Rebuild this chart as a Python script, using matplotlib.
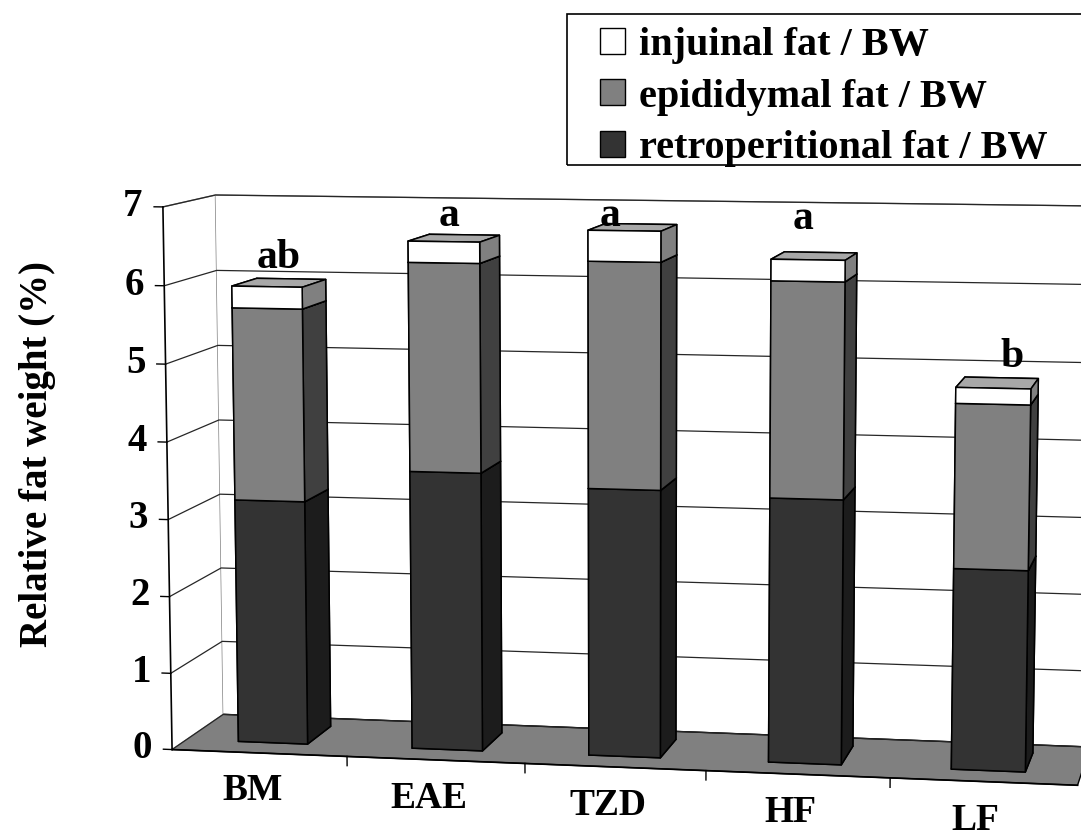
import matplotlib
matplotlib.use("Agg")
import matplotlib.pyplot as plt
import numpy as np
from matplotlib.patches import Patch, Rectangle

# relative fat depot weights (% of body weight), stacked bottom to top
groups = ["BM", "EAE", "TZD", "HF", "LF"]
retro = [3.18, 3.61, 3.45, 3.39, 2.56]
epid = [2.49, 2.68, 2.89, 2.74, 2.08]
inguinal = [0.28, 0.27, 0.39, 0.27, 0.20]
letters = ["ab", "a", "a", "a", "b"]
series_names = ["retroperitional fat / BW", "epididymal fat / BW", "injuinal fat / BW"]

# where the significance letters sit (x shift, height on the value axis)
letter_dx = [0.07, 0.03, -0.08, -0.03, 0.10]
letter_z = [6.08, 6.65, 6.67, 6.67, 5.0]

# (front, side, top) shades for each stacked series
shades = [("#333333", "#1c1c1c", "#282828"),
          ("#808080", "#404040", "#606060"),
          ("#ffffff", "#808080", "#a8a8a8")]

plt.rcParams['font.family'] = ['Liberation Serif', 'DejaVu Serif']
plt.rcParams['font.weight'] = 'bold'

fig = plt.figure(figsize=(10.81, 8.36), dpi=100)
ax = fig.add_axes([0.0619, -0.250, 1.0176, 1.316], projection='3d')
ax.set_proj_type('persp', focal_length=0.65)
ax.view_init(elev=8, azim=-79.5)
ax.set_box_aspect((12.05, 2.4, 7.25), zoom=0.95)

bw, y0, dy = 0.4, 0.28, 0.5
xs, ys, zs, dxs, dys, dzs, colors = [], [], [], [], [], [], []
bottom = np.zeros(len(groups))
for vals, (front, side, top) in zip([retro, epid, inguinal], shades):
    for i, v in enumerate(vals):
        xs.append(i - bw / 2); ys.append(y0); zs.append(bottom[i])
        dxs.append(bw); dys.append(dy); dzs.append(v)
        # face order in bar3d: -z, +z, -y, +y, -x, +x
        colors += [top, top, front, front, side, side]
    bottom += np.array(vals)

ax.bar3d(xs, ys, zs, dxs, dys, dzs, color=colors, shade=False,
         edgecolor='black', linewidth=1.1)

# significance letters above each bar
for i, s in enumerate(letters):
    ax.text(i + letter_dx[i], y0, letter_z[i], s, ha='center', va='bottom',
            fontsize=30, fontweight='bold')

# value axis labels and ticks on the front edge of the side wall
for v in range(8):
    ax.text(-0.67, 0, v, str(v), ha='center', va='center', fontsize=28)
    ax.plot([-0.5, -0.55], [0, 0], [v, v], color='black', lw=1)

# category labels and separators under the floor
for i, g in enumerate(groups):
    ax.text(i - 0.04, 0, -0.5, g, ha='center', va='center', fontsize=27)
for k in range(len(groups) - 1):
    ax.plot([k + 0.5, k + 0.5], [0, 0], [0, -0.12], color='black', lw=1)

ax.plot([-0.5, -0.5], [0, 0], [0, 7], color='black', lw=1.2)
ax.plot([-0.5, 4.5], [0, 0], [0, 0], color='black', lw=1.2)

ax.set_xlim(-0.5, 4.5, view_margin=0)
ax.set_ylim(0, 1, view_margin=0)
ax.set_zlim(0, 7, view_margin=0)
ax.set_xticks([])
ax.set_yticks([])
ax.set_zticks(range(8))
ax.set_zticklabels([])
ax.zaxis._axinfo['tick']['inward_factor'] = 0
ax.zaxis._axinfo['tick']['outward_factor'] = 0
ax.zaxis._axinfo['grid'].update(color='0.15', linewidth=0.9, linestyle='-')
for axis in (ax.xaxis, ax.yaxis, ax.zaxis):
    axis.line.set_color((0, 0, 0, 0))
ax.xaxis.set_pane_color('white')
ax.yaxis.set_pane_color('white')
ax.zaxis.set_pane_color('#808080')
ax.xaxis.pane.set_edgecolor('0.5')
ax.yaxis.pane.set_edgecolor('0.5')
ax.zaxis.pane.set_edgecolor('black')

fig.text(38 / 1081, 1 - 454 / 836, 'Relative fat weight (%)', rotation=90,
         fontsize=28, ha='center', va='center')

# legend box runs off the right edge of the page
fig.patches.append(Rectangle((567 / 1081, 1 - 165 / 836), 0.6, 151 / 836,
                             transform=fig.transFigure, fill=False,
                             edgecolor='black', lw=1.2))
handles = [Patch(facecolor=shades[k][0], edgecolor='black', lw=1) for k in (2, 1, 0)]
labels = [series_names[k] for k in (2, 1, 0)]
leg = fig.legend(handles, labels, loc='upper left',
                 bbox_to_anchor=(600 / 1081, 1 - 27 / 836), frameon=False,
                 fontsize=29, handlelength=0.62, handleheight=0.62,
                 handletextpad=0.35, labelspacing=0.36, borderpad=0,
                 borderaxespad=0)

fig.savefig('out.png', dpi=100)
